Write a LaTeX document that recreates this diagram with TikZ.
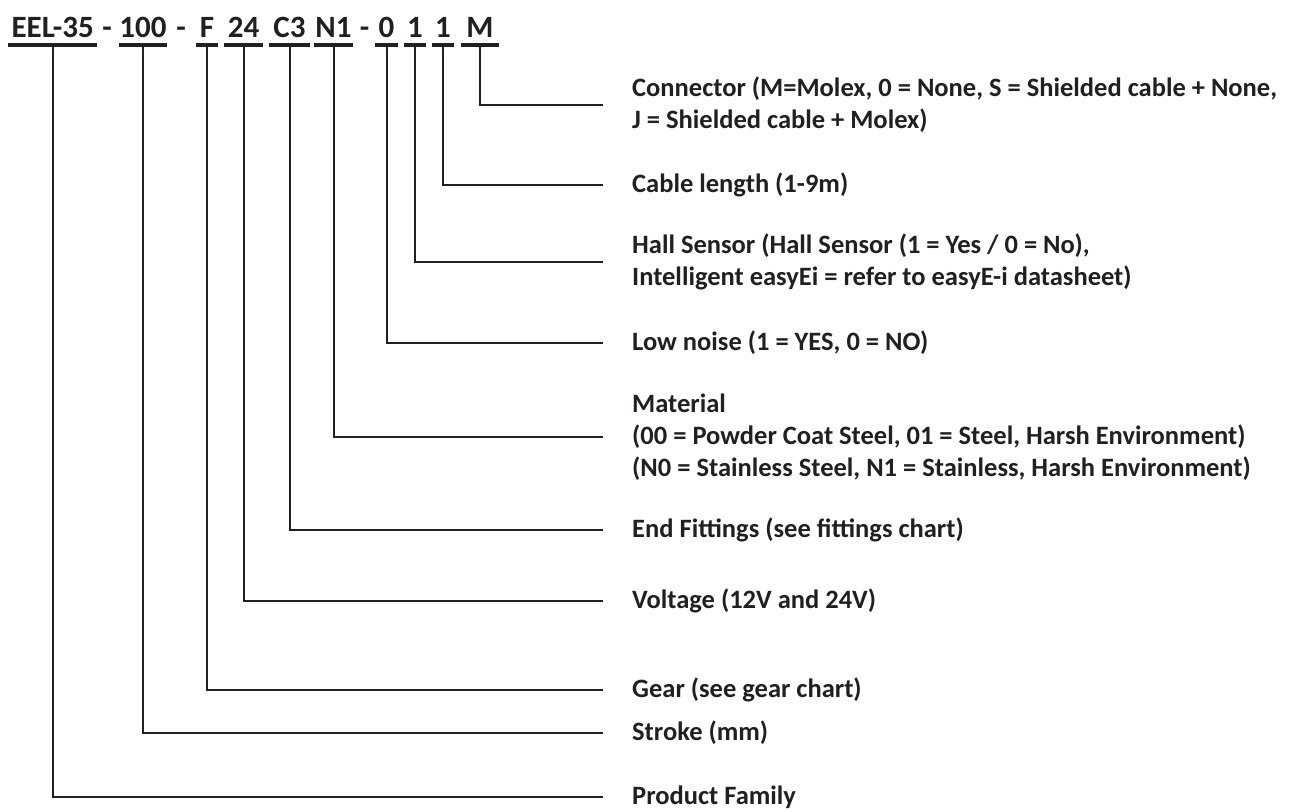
\documentclass[tikz,border=0pt]{standalone}
\usepackage{fontspec}
\setmainfont{Carlito}
\usetikzlibrary{positioning}
\definecolor{ink}{HTML}{231F20}
\tikzstyle{code} = [font=\fontsize{31}{37}\selectfont\bfseries, text=ink, anchor=base, inner sep=0pt]
\tikzstyle{ubar} = [fill=ink, rectangle, minimum height=4.5, inner sep=0pt]
\tikzstyle{lbl} = [font=\fontsize{26.5}{32}\selectfont\bfseries, text=ink, anchor=west, align=left, inner sep=0pt]
\tikzstyle{lead} = [draw=ink, line width=2pt]
\newcommand{\gap}{29}

\begin{document}
\begin{tikzpicture}[x=1pt, y=-1pt]
\useasboundingbox (0,0) rectangle (1289,811);
% part number
\node[code] (fam) at (52.7,37) {EEL-35};
\node[code] (d1) at (107,37) {-};
\node[code] (stk) at (143,37) {100};
\node[code] (d2) at (181,37) {-};
\node[code] (gear) at (207,37) {F};
\node[code] (volt) at (243.5,37) {24};
\node[code] (fit) at (289.5,37) {C3};
\node[code] (mat) at (333.5,37) {N1};
\node[code] (d3) at (364.5,37) {-};
\node[code] (noise) at (386.5,37) {0};
\node[code] (hall) at (415,37) {1};
\node[code] (cab) at (443,37) {1};
\node[code] (conn) at (480,37) {M};
% underlines
\node[ubar, minimum width=89] (fam-u) at (52.7,45) {};
\node[ubar, minimum width=48] (stk-u) at (143,45) {};
\node[ubar, minimum width=22] (gear-u) at (207,45) {};
\node[ubar, minimum width=39] (volt-u) at (243.5,45) {};
\node[ubar, minimum width=41] (fit-u) at (289.5,45) {};
\node[ubar, minimum width=39] (mat-u) at (333.5,45) {};
\node[ubar, minimum width=23] (noise-u) at (386.5,45) {};
\node[ubar, minimum width=22] (hall-u) at (415,45) {};
\node[ubar, minimum width=22] (cab-u) at (443,45) {};
\node[ubar, minimum width=38] (conn-u) at (480,45) {};
% descriptions
\node[lbl] (conn-l) at (632,105) {Connector (M=Molex, 0 = None, S = Shielded cable + None,\\J = Shielded cable + Molex)};
\node[lbl] (cab-l) at (632,185) {Cable length (1-9m)};
\node[lbl] (hall-l) at (632,262) {Hall Sensor (Hall Sensor (1 = Yes / 0 = No),\\Intelligent easyEi = refer to easyE-i datasheet)};
\node[lbl] (noise-l) at (632,343) {Low noise (1 = YES, 0 = NO)};
\node[lbl] (mat-l) at (632,437) {Material\\(00 = Powder Coat Steel, 01 = Steel, Harsh Environment)\\(N0 = Stainless Steel, N1 = Stainless, Harsh Environment)};
\node[lbl] (fit-l) at (632,530) {End Fittings (see fittings chart)};
\node[lbl] (volt-l) at (632,601) {Voltage (12V and 24V)};
\node[lbl] (gear-l) at (632,690) {Gear (see gear chart)};
\node[lbl] (stk-l) at (632,733) {Stroke (mm)};
\node[lbl] (fam-l) at (632,797) {Product Family};
% leaders
\foreach \p in {fam,stk,gear,volt,fit,mat,noise,hall,cab,conn}
  \draw[lead] (\p-u.south) |- ([xshift=-\gap]\p-l.west);
\end{tikzpicture}
\end{document}
